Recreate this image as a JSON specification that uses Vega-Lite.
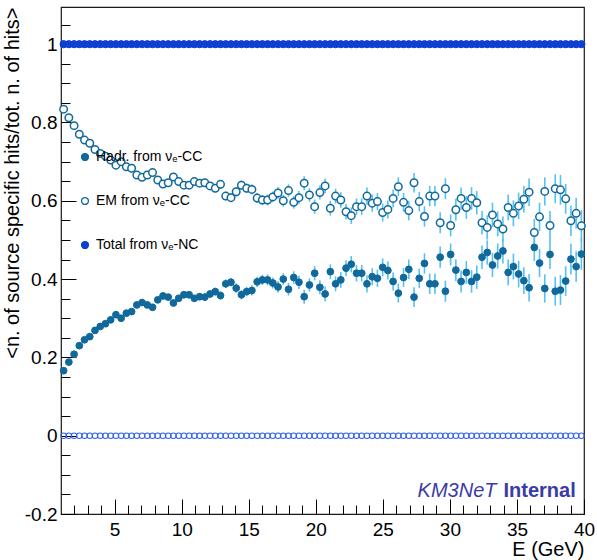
{
  "$schema": "https://vega.github.io/schema/vega-lite/v6.json",
  "width": 523,
  "height": 507,
  "autosize": {"type": "none"},
  "padding": {"left": 61, "top": 7, "right": 13, "bottom": 46},
  "background": "white",
  "config": {
    "font": "Liberation Sans",
    "view": {"stroke": "#1a1a1a", "strokeWidth": 1.2},
    "axis": {
      "domain": false,
      "grid": false,
      "tickColor": "#000000",
      "tickWidth": 1,
      "labelColor": "#000000",
      "titleColor": "#000000",
      "labelFont": "Liberation Sans",
      "titleFont": "Liberation Sans",
      "titleFontWeight": "normal"
    }
  },
  "datasets": {
    "bins": [
      {"E": 1.195, "h": 0.166, "m": 0.834, "err": 0.003, "t": 1, "z": 0},
      {"E": 1.585, "h": 0.188, "m": 0.812, "err": 0.003, "t": 1, "z": 0},
      {"E": 1.975, "h": 0.208, "m": 0.792, "err": 0.003, "t": 1, "z": 0},
      {"E": 2.365, "h": 0.230, "m": 0.770, "err": 0.003, "t": 1, "z": 0},
      {"E": 2.755, "h": 0.245, "m": 0.755, "err": 0.004, "t": 1, "z": 0},
      {"E": 3.145, "h": 0.253, "m": 0.747, "err": 0.004, "t": 1, "z": 0},
      {"E": 3.535, "h": 0.269, "m": 0.731, "err": 0.004, "t": 1, "z": 0},
      {"E": 3.925, "h": 0.279, "m": 0.721, "err": 0.004, "t": 1, "z": 0},
      {"E": 4.315, "h": 0.286, "m": 0.714, "err": 0.005, "t": 1, "z": 0},
      {"E": 4.705, "h": 0.296, "m": 0.704, "err": 0.005, "t": 1, "z": 0},
      {"E": 5.095, "h": 0.309, "m": 0.691, "err": 0.005, "t": 1, "z": 0},
      {"E": 5.485, "h": 0.300, "m": 0.700, "err": 0.005, "t": 1, "z": 0},
      {"E": 5.875, "h": 0.313, "m": 0.687, "err": 0.006, "t": 1, "z": 0},
      {"E": 6.265, "h": 0.317, "m": 0.683, "err": 0.006, "t": 1, "z": 0},
      {"E": 6.655, "h": 0.334, "m": 0.666, "err": 0.006, "t": 1, "z": 0},
      {"E": 7.045, "h": 0.340, "m": 0.660, "err": 0.006, "t": 1, "z": 0},
      {"E": 7.435, "h": 0.334, "m": 0.666, "err": 0.007, "t": 1, "z": 0},
      {"E": 7.825, "h": 0.328, "m": 0.672, "err": 0.007, "t": 1, "z": 0},
      {"E": 8.215, "h": 0.347, "m": 0.653, "err": 0.007, "t": 1, "z": 0},
      {"E": 8.605, "h": 0.357, "m": 0.643, "err": 0.007, "t": 1, "z": 0},
      {"E": 8.995, "h": 0.354, "m": 0.646, "err": 0.008, "t": 1, "z": 0},
      {"E": 9.385, "h": 0.339, "m": 0.661, "err": 0.008, "t": 1, "z": 0},
      {"E": 9.775, "h": 0.351, "m": 0.649, "err": 0.008, "t": 1, "z": 0},
      {"E": 10.165, "h": 0.360, "m": 0.640, "err": 0.008, "t": 1, "z": 0},
      {"E": 10.555, "h": 0.360, "m": 0.640, "err": 0.009, "t": 1, "z": 0},
      {"E": 10.945, "h": 0.351, "m": 0.649, "err": 0.009, "t": 1, "z": 0},
      {"E": 11.335, "h": 0.355, "m": 0.645, "err": 0.009, "t": 1, "z": 0},
      {"E": 11.725, "h": 0.354, "m": 0.646, "err": 0.010, "t": 1, "z": 0},
      {"E": 12.115, "h": 0.362, "m": 0.638, "err": 0.010, "t": 1, "z": 0},
      {"E": 12.505, "h": 0.368, "m": 0.632, "err": 0.010, "t": 1, "z": 0},
      {"E": 12.895, "h": 0.358, "m": 0.642, "err": 0.011, "t": 1, "z": 0},
      {"E": 13.285, "h": 0.388, "m": 0.612, "err": 0.011, "t": 1, "z": 0},
      {"E": 13.675, "h": 0.392, "m": 0.608, "err": 0.011, "t": 1, "z": 0},
      {"E": 14.065, "h": 0.377, "m": 0.623, "err": 0.012, "t": 1, "z": 0},
      {"E": 14.455, "h": 0.360, "m": 0.640, "err": 0.012, "t": 1, "z": 0},
      {"E": 14.845, "h": 0.368, "m": 0.632, "err": 0.012, "t": 1, "z": 0},
      {"E": 15.235, "h": 0.371, "m": 0.629, "err": 0.013, "t": 1, "z": 0},
      {"E": 15.625, "h": 0.393, "m": 0.607, "err": 0.013, "t": 1, "z": 0},
      {"E": 16.015, "h": 0.398, "m": 0.602, "err": 0.013, "t": 1, "z": 0},
      {"E": 16.405, "h": 0.398, "m": 0.602, "err": 0.014, "t": 1, "z": 0},
      {"E": 16.795, "h": 0.390, "m": 0.610, "err": 0.014, "t": 1, "z": 0},
      {"E": 17.185, "h": 0.380, "m": 0.620, "err": 0.015, "t": 1, "z": 0},
      {"E": 17.575, "h": 0.400, "m": 0.600, "err": 0.015, "t": 1, "z": 0},
      {"E": 17.965, "h": 0.374, "m": 0.626, "err": 0.016, "t": 1, "z": 0},
      {"E": 18.355, "h": 0.404, "m": 0.596, "err": 0.016, "t": 1, "z": 0},
      {"E": 18.745, "h": 0.392, "m": 0.608, "err": 0.017, "t": 1, "z": 0},
      {"E": 19.135, "h": 0.355, "m": 0.645, "err": 0.018, "t": 1, "z": 0},
      {"E": 19.525, "h": 0.385, "m": 0.615, "err": 0.017, "t": 1, "z": 0},
      {"E": 19.915, "h": 0.415, "m": 0.585, "err": 0.018, "t": 1, "z": 0},
      {"E": 20.305, "h": 0.379, "m": 0.621, "err": 0.018, "t": 1, "z": 0},
      {"E": 20.695, "h": 0.362, "m": 0.638, "err": 0.019, "t": 1, "z": 0},
      {"E": 21.085, "h": 0.419, "m": 0.581, "err": 0.019, "t": 1, "z": 0},
      {"E": 21.475, "h": 0.388, "m": 0.612, "err": 0.019, "t": 1, "z": 0},
      {"E": 21.865, "h": 0.398, "m": 0.602, "err": 0.020, "t": 1, "z": 0},
      {"E": 22.255, "h": 0.428, "m": 0.572, "err": 0.020, "t": 1, "z": 0},
      {"E": 22.645, "h": 0.438, "m": 0.562, "err": 0.021, "t": 1, "z": 0},
      {"E": 23.035, "h": 0.415, "m": 0.585, "err": 0.021, "t": 1, "z": 0},
      {"E": 23.425, "h": 0.415, "m": 0.585, "err": 0.021, "t": 1, "z": 0},
      {"E": 23.815, "h": 0.388, "m": 0.612, "err": 0.022, "t": 1, "z": 0},
      {"E": 24.205, "h": 0.406, "m": 0.594, "err": 0.022, "t": 1, "z": 0},
      {"E": 24.595, "h": 0.402, "m": 0.598, "err": 0.022, "t": 1, "z": 0},
      {"E": 24.985, "h": 0.430, "m": 0.570, "err": 0.023, "t": 1, "z": 0},
      {"E": 25.375, "h": 0.422, "m": 0.578, "err": 0.023, "t": 1, "z": 0},
      {"E": 25.765, "h": 0.394, "m": 0.606, "err": 0.023, "t": 1, "z": 0},
      {"E": 26.155, "h": 0.364, "m": 0.636, "err": 0.024, "t": 1, "z": 0},
      {"E": 26.545, "h": 0.404, "m": 0.596, "err": 0.024, "t": 1, "z": 0},
      {"E": 26.935, "h": 0.425, "m": 0.575, "err": 0.025, "t": 1, "z": 0},
      {"E": 27.325, "h": 0.354, "m": 0.646, "err": 0.025, "t": 1, "z": 0},
      {"E": 27.715, "h": 0.402, "m": 0.598, "err": 0.025, "t": 1, "z": 0},
      {"E": 28.105, "h": 0.440, "m": 0.560, "err": 0.026, "t": 1, "z": 0},
      {"E": 28.495, "h": 0.388, "m": 0.612, "err": 0.026, "t": 1, "z": 0},
      {"E": 28.885, "h": 0.388, "m": 0.612, "err": 0.026, "t": 1, "z": 0},
      {"E": 29.275, "h": 0.456, "m": 0.544, "err": 0.027, "t": 1, "z": 0},
      {"E": 29.665, "h": 0.369, "m": 0.631, "err": 0.027, "t": 1, "z": 0},
      {"E": 30.055, "h": 0.463, "m": 0.537, "err": 0.028, "t": 1, "z": 0},
      {"E": 30.445, "h": 0.423, "m": 0.577, "err": 0.028, "t": 1, "z": 0},
      {"E": 30.835, "h": 0.394, "m": 0.606, "err": 0.028, "t": 1, "z": 0},
      {"E": 31.225, "h": 0.417, "m": 0.583, "err": 0.029, "t": 1, "z": 0},
      {"E": 31.615, "h": 0.394, "m": 0.606, "err": 0.029, "t": 1, "z": 0},
      {"E": 32.005, "h": 0.405, "m": 0.595, "err": 0.030, "t": 1, "z": 0},
      {"E": 32.395, "h": 0.456, "m": 0.544, "err": 0.030, "t": 1, "z": 0},
      {"E": 32.785, "h": 0.468, "m": 0.532, "err": 0.031, "t": 1, "z": 0},
      {"E": 33.175, "h": 0.436, "m": 0.564, "err": 0.031, "t": 1, "z": 0},
      {"E": 33.565, "h": 0.459, "m": 0.541, "err": 0.032, "t": 1, "z": 0},
      {"E": 33.955, "h": 0.472, "m": 0.528, "err": 0.032, "t": 1, "z": 0},
      {"E": 34.345, "h": 0.417, "m": 0.583, "err": 0.033, "t": 1, "z": 0},
      {"E": 34.735, "h": 0.432, "m": 0.568, "err": 0.033, "t": 1, "z": 0},
      {"E": 35.125, "h": 0.413, "m": 0.587, "err": 0.034, "t": 1, "z": 0},
      {"E": 35.515, "h": 0.396, "m": 0.604, "err": 0.034, "t": 1, "z": 0},
      {"E": 35.905, "h": 0.378, "m": 0.622, "err": 0.035, "t": 1, "z": 0},
      {"E": 36.295, "h": 0.481, "m": 0.519, "err": 0.035, "t": 1, "z": 0},
      {"E": 36.685, "h": 0.441, "m": 0.559, "err": 0.036, "t": 1, "z": 0},
      {"E": 37.075, "h": 0.376, "m": 0.624, "err": 0.036, "t": 1, "z": 0},
      {"E": 37.465, "h": 0.463, "m": 0.537, "err": 0.037, "t": 1, "z": 0},
      {"E": 37.855, "h": 0.369, "m": 0.631, "err": 0.037, "t": 1, "z": 0},
      {"E": 38.245, "h": 0.372, "m": 0.628, "err": 0.038, "t": 1, "z": 0},
      {"E": 38.635, "h": 0.395, "m": 0.605, "err": 0.038, "t": 1, "z": 0},
      {"E": 39.025, "h": 0.451, "m": 0.549, "err": 0.039, "t": 1, "z": 0},
      {"E": 39.415, "h": 0.432, "m": 0.568, "err": 0.039, "t": 1, "z": 0},
      {"E": 39.805, "h": 0.464, "m": 0.536, "err": 0.040, "t": 1, "z": 0}
    ]
  },
  "data": {"name": "bins"},
  "layer": [
    {
      "mark": {"type": "point", "shape": "circle", "filled": false, "size": 30, "stroke": "#3464e8", "strokeWidth": 1.1, "opacity": 1},
      "encoding": {
        "x": {
          "field": "E", "type": "quantitative",
          "scale": {"domain": [1, 40], "nice": false, "zero": false},
          "axis": {"orient": "bottom", "values": [2, 3, 4, 6, 7, 8, 9, 11, 12, 13, 14, 16, 17, 18, 19, 21, 22, 23, 24, 26, 27, 28, 29, 31, 32, 33, 34, 36, 37, 38, 39], "labels": false, "tickSize": -9, "title": null}
        },
        "y": {
          "field": "z", "type": "quantitative",
          "scale": {"domain": [-0.2, 1.095], "nice": false, "zero": false},
          "axis": {"orient": "left", "values": [-0.15, -0.1, -0.05, 0.05, 0.1, 0.15, 0.25, 0.3, 0.35, 0.45, 0.5, 0.55, 0.65, 0.7, 0.75, 0.85, 0.9, 0.95, 1.05], "labels": false, "tickSize": -9, "title": null}
        }
      }
    },
    {
      "mark": {"type": "errorbar", "color": "#55c1f4", "thickness": 1.6},
      "encoding": {
        "x": {"field": "E", "type": "quantitative", "axis": null},
        "y": {"field": "h", "type": "quantitative", "axis": null},
        "yError": {"field": "err"}
      }
    },
    {
      "mark": {"type": "errorbar", "color": "#55c1f4", "thickness": 1.6},
      "encoding": {
        "x": {"field": "E", "type": "quantitative", "axis": null},
        "y": {"field": "m", "type": "quantitative", "axis": null},
        "yError": {"field": "err"}
      }
    },
    {
      "mark": {"type": "point", "shape": "circle", "size": 46, "strokeWidth": 1, "opacity": 1},
      "encoding": {
        "x": {"field": "E", "type": "quantitative", "axis": null},
        "y": {"field": "h", "type": "quantitative", "axis": null},
        "fill": {
          "datum": "Hadr. from νₑ-CC",
          "scale": {"domain": ["Hadr. from νₑ-CC", "EM from νₑ-CC", "Total from νₑ-NC"], "range": ["#11699b", "#ffffff", "#0d3fd3"]},
          "legend": {"title": null, "orient": "none", "legendX": 17, "legendY": 143, "labelFontSize": 14, "labelFont": "Liberation Sans", "labelColor": "#000000", "symbolType": "circle", "symbolSize": 48, "symbolStrokeWidth": 1.3, "rowPadding": 30, "labelOffset": 4, "padding": 0}
        },
        "stroke": {
          "datum": "Hadr. from νₑ-CC",
          "scale": {"domain": ["Hadr. from νₑ-CC", "EM from νₑ-CC", "Total from νₑ-NC"], "range": ["#11699b", "#11699b", "#0d3fd3"]},
          "legend": {"title": null, "orient": "none", "legendX": 17, "legendY": 143, "labelFontSize": 14, "labelFont": "Liberation Sans", "labelColor": "#000000", "symbolType": "circle", "symbolSize": 48, "symbolStrokeWidth": 1.3, "rowPadding": 30, "labelOffset": 4, "padding": 0}
        }
      }
    },
    {
      "mark": {"type": "point", "shape": "circle", "size": 56, "strokeWidth": 1.5, "opacity": 1},
      "encoding": {
        "x": {"field": "E", "type": "quantitative", "axis": null},
        "y": {"field": "m", "type": "quantitative", "axis": null},
        "fill": {
          "datum": "EM from νₑ-CC",
          "scale": {"domain": ["Hadr. from νₑ-CC", "EM from νₑ-CC", "Total from νₑ-NC"], "range": ["#11699b", "#ffffff", "#0d3fd3"]}
        },
        "stroke": {
          "datum": "EM from νₑ-CC",
          "scale": {"domain": ["Hadr. from νₑ-CC", "EM from νₑ-CC", "Total from νₑ-NC"], "range": ["#11699b", "#11699b", "#0d3fd3"]}
        }
      }
    },
    {
      "mark": {"type": "point", "shape": "circle", "size": 52, "strokeWidth": 1, "opacity": 1},
      "encoding": {
        "x": {
          "field": "E", "type": "quantitative",
          "axis": {"orient": "bottom", "values": [5, 10, 15, 20, 25, 30, 35, 40], "tickSize": -15, "labelPadding": 21, "labelFontSize": 19, "labelFlush": false, "title": "E (GeV)", "titleFontSize": 20, "titleAnchor": "end", "titleAlign": "right", "titlePadding": 0}
        },
        "y": {
          "field": "t", "type": "quantitative",
          "axis": {"orient": "left", "values": [-0.2, 0, 0.2, 0.4, 0.6, 0.8, 1], "tickSize": -15, "labelPadding": 19, "labelFontSize": 19, "labelFlush": false, "labelExpr": "replace(format(datum.value, '~g'), '−', '-')", "title": "<n. of source specific hits/tot. n. of hits>", "titleFontSize": 20, "titleAnchor": "end", "titleAlign": "right", "titlePadding": 2}
        },
        "fill": {
          "datum": "Total from νₑ-NC",
          "scale": {"domain": ["Hadr. from νₑ-CC", "EM from νₑ-CC", "Total from νₑ-NC"], "range": ["#11699b", "#ffffff", "#0d3fd3"]}
        },
        "stroke": {
          "datum": "Total from νₑ-NC",
          "scale": {"domain": ["Hadr. from νₑ-CC", "EM from νₑ-CC", "Total from νₑ-NC"], "range": ["#11699b", "#11699b", "#0d3fd3"]}
        }
      }
    },
    {
      "data": {"values": [{}]},
      "mark": {"type": "text", "text": "KM3NeT", "font": "Liberation Sans", "fontSize": 20, "fontStyle": "italic", "color": "#3b3ba6", "align": "right", "baseline": "alphabetic", "dx": -3},
      "encoding": {
        "x": {"datum": 33.7, "type": "quantitative", "axis": null},
        "y": {"datum": -0.156, "type": "quantitative", "axis": null}
      }
    },
    {
      "data": {"values": [{}]},
      "mark": {"type": "text", "text": "Internal", "font": "Liberation Sans", "fontSize": 20, "fontWeight": "bold", "color": "#3b3ba6", "align": "left", "baseline": "alphabetic", "dx": 4},
      "encoding": {
        "x": {"datum": 33.7, "type": "quantitative", "axis": null},
        "y": {"datum": -0.156, "type": "quantitative", "axis": null}
      }
    }
  ],
  "resolve": {"axis": {"x": "independent", "y": "independent"}}
}
